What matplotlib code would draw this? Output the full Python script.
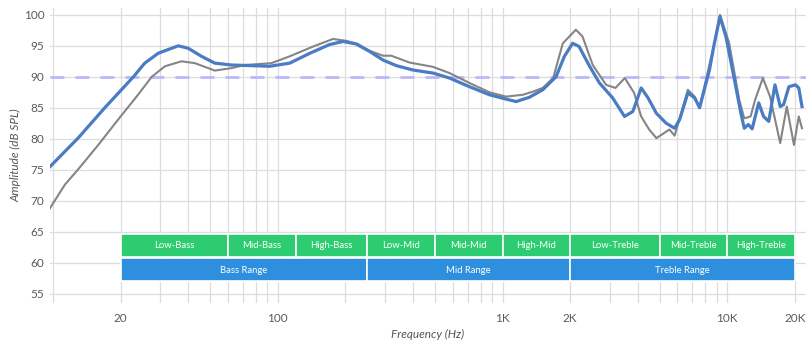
import matplotlib
matplotlib.use("Agg")
import matplotlib.pyplot as plt
from matplotlib.ticker import FixedLocator, NullFormatter

plt.rcParams['font.family'] = ['Lato', 'DejaVu Sans']

# Frequency response data
blue_freq = [9.7, 13.0, 17.0, 22.8, 25.6, 29.4, 36.1, 40, 45.8, 52.5, 62.3, 76.4, 92, 113,
             139, 170, 195, 223, 256, 294, 337, 399, 491, 581, 713, 875, 1037, 1150, 1318,
             1510, 1730, 1885, 2050, 2190, 2440, 2700, 3090, 3490, 3800, 4140, 4440, 4840,
             5350, 5830, 6140, 6680, 7160, 7530, 8330, 8760, 9280, 9860, 10700, 11500,
             11900, 12400, 12900, 13800, 14500, 15300, 16300, 17200, 17800, 18800, 20100,
             20800, 21500]
blue_db = [75.5, 80.2, 85.0, 90.0, 92.2, 93.8, 95.0, 94.6, 93.3, 92.2, 91.9, 91.8, 91.7, 92.2,
           93.8, 95.2, 95.7, 95.3, 94.1, 92.7, 91.8, 91.1, 90.6, 89.8, 88.4, 87.1, 86.4, 86.0, 86.7,
           87.9, 90.0, 93.3, 95.4, 94.9, 91.7, 89.0, 86.6, 83.6, 84.4, 88.2, 86.6, 84.1,
           82.5, 81.7, 83.1, 87.4, 86.6, 85.0, 91.1, 95.4, 99.7, 96.5, 90.0, 84.1,
           81.7, 82.3, 81.6, 85.8, 83.6, 82.8, 88.7, 85.2, 85.5, 88.4, 88.7,
           88.2, 85.2]

gray_freq = [9.7, 11.3, 12.9, 15.9, 19.5, 23.9, 27.5, 31.5, 37.3, 42.8, 52.5, 62.3, 71.3, 93.7,
             113, 144, 176, 202, 227, 256, 294, 320, 386, 491, 581, 713, 875, 1037, 1232,
             1364, 1510, 1680, 1855, 2120, 2270, 2520, 2890, 3180, 3500, 3850, 4140, 4490,
             4840, 5530, 5830, 6680, 7160, 7530, 8760, 9280, 10200, 11300, 11900, 12700,
             13300, 14400, 15500, 17200, 18400, 19800, 20800, 21500]
gray_db = [68.8, 72.6, 75.0, 79.0, 83.1, 87.1, 90.0, 91.7, 92.5, 92.2, 91.0, 91.4, 91.9, 92.2,
           93.3, 94.9, 96.1, 95.8, 95.3, 94.2, 93.4, 93.4, 92.3, 91.6, 90.6, 89.0, 87.5, 86.8, 87.1,
           87.6, 88.2, 89.8, 95.4, 97.6, 96.5, 91.9, 88.7, 88.2, 89.8, 87.4, 83.6, 81.5,
           80.1, 81.5, 80.5, 87.9, 86.8, 85.0, 95.4, 100.0, 95.4, 86.3, 83.3, 83.6,
           86.3, 89.8, 86.8, 79.3, 85.2, 79.0, 83.6, 81.7]

target_db = 90

band_labels = ['Low-Bass', 'Mid-Bass', 'High-Bass', 'Low-Mid', 'Mid-Mid', 'High-Mid',
               'Low-Treble', 'Mid-Treble', 'High-Treble']
band_edges = [20, 60, 120, 250, 500, 1000, 2000, 5000, 10000, 20000]
range_labels = ['Bass Range', 'Mid Range', 'Treble Range']
range_edges = [20, 250, 2000, 20000]

xtick_vals = [20, 100, 1000, 2000, 10000, 20000]
xtick_labels = ['20', '100', '1K', '2K', '10K', '20K']
ytick_vals = [55, 60, 65, 70, 75, 80, 85, 90, 95, 100]

fig = plt.figure(figsize=(8.08, 3.40), dpi=100)
ax = fig.add_axes([50/808, 37/340, 756/808, 295/340])
ax.set_xscale('log')
ax.set_xlim(9.7, 22400)
ax.set_ylim(53.5, 101.1)

# grid
minor = []
for dec in [10, 100, 1000, 10000]:
    for m in range(1, 10):
        v = dec * m
        if v <= 20000:
            minor.append(v)
for v in minor:
    ax.axvline(v, color='#dddddd', lw=0.9, zorder=0)
for v in ytick_vals:
    ax.axhline(v, color='#dddddd', lw=0.9, zorder=0)

for s in ax.spines.values():
    s.set_visible(False)

ax.xaxis.set_major_locator(FixedLocator(xtick_vals))
ax.xaxis.set_minor_locator(FixedLocator([]))
ax.xaxis.set_minor_formatter(NullFormatter())
ax.set_xticklabels(xtick_labels)
ax.set_yticks(ytick_vals)
ax.tick_params(length=0, labelsize=8.5, labelcolor='#5a5a5a', pad=4)
ax.tick_params(axis='x', pad=7)

ax.set_xlabel('Frequency (Hz)', style='italic', fontsize=8.5, color='#555555', labelpad=4)
ax.set_ylabel('Amplitude (dB SPL)', style='italic', fontsize=8.5, color='#555555', labelpad=2)

# target line
ax.axhline(target_db, color='#b9b9fa', lw=2, dashes=(5, 4), zorder=1)

# bands
for i, lab in enumerate(band_labels):
    l, r = band_edges[i], band_edges[i + 1]
    ax.bar(l, 3.6, width=r - l, bottom=61.0, align='edge', color='#2ecc71',
           edgecolor='white', linewidth=1.2, zorder=2)
    ax.text((l * r) ** 0.5, 62.8, lab, ha='center', va='center', color='white',
            fontsize=6.8, zorder=3)
for i, lab in enumerate(range_labels):
    l, r = range_edges[i], range_edges[i + 1]
    ax.bar(l, 3.7, width=r - l, bottom=57.0, align='edge', color='#2f8fdf',
           edgecolor='white', linewidth=1.2, zorder=2)
    ax.text((l * r) ** 0.5, 58.8, lab, ha='center', va='center', color='white',
            fontsize=6.8, zorder=3)

ax.plot(gray_freq, gray_db, color='#858585', lw=1.5, zorder=4)
ax.plot(blue_freq, blue_db, color='#4a7cc4', lw=2.3, zorder=5)

fig.savefig('out.png', dpi=100, facecolor='white')
